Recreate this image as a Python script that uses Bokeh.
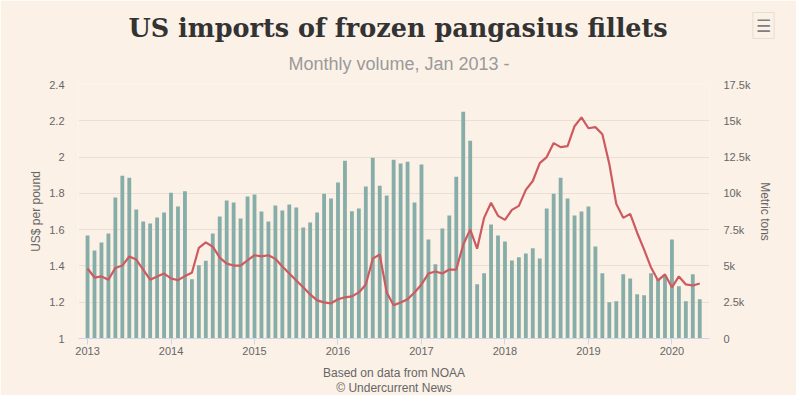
from bokeh.plotting import figure
from bokeh.models import (Range1d, LinearAxis, FixedTicker, Title, ColumnDataSource,
                          NumeralTickFormatter, Label)
from bokeh.embed import file_html
from bokeh.resources import INLINE

# ---- data ----
months = [f"{y}-{m:02d}" for y in range(2013, 2021) for m in range(1, 13)][:89]

volume_tons = [
    7100, 6070, 6620, 7240, 9710, 11220, 11080, 8890, 8060, 7920, 8340, 8680,      # 2013
    10050, 9090, 10140, 4080, 5040, 5360, 7240, 8400, 9500, 9370, 8270, 9780,      # 2014
    9920, 8750, 8060, 9160, 8820, 9230, 9020, 7650, 7990, 8680, 9980, 9640,        # 2015
    10740, 12250, 8770, 8950, 10470, 12460, 10530, 9850, 12320, 12050, 12180, 9370,  # 2016
    11980, 6820, 5110, 7580, 8470, 11150, 15620, 13630, 3730, 4490, 7850, 7100,    # 2017
    6690, 5380, 5590, 5860, 6210, 5520, 8950, 9980, 11080, 9640, 8470, 8750,       # 2018
    9090, 6340, 4490, 2500, 2560, 4420, 4140, 3050, 2980, 4490, 4080, 4350,        # 2019
    6820, 3600, 2560, 4420, 2700,                                                  # 2020
]

price_usd_lb = [
    1.386, 1.336, 1.342, 1.324, 1.389, 1.402, 1.452, 1.435, 1.380, 1.324, 1.342, 1.358,
    1.331, 1.322, 1.344, 1.362, 1.500, 1.530, 1.506, 1.446, 1.413, 1.402, 1.402, 1.430,
    1.459, 1.453, 1.459, 1.439, 1.397, 1.358, 1.320, 1.282, 1.243, 1.210, 1.199, 1.194,
    1.216, 1.227, 1.232, 1.254, 1.298, 1.440, 1.463, 1.254, 1.183, 1.199, 1.216, 1.254,
    1.298, 1.358, 1.369, 1.358, 1.380, 1.380, 1.517, 1.600, 1.495, 1.665, 1.748, 1.676,
    1.654, 1.709, 1.731, 1.819, 1.868, 1.967, 2.000, 2.077, 2.055, 2.060, 2.170, 2.219,
    2.159, 2.165, 2.126, 1.962, 1.742, 1.665, 1.687, 1.583, 1.490, 1.391, 1.320, 1.353,
    1.282, 1.342, 1.298, 1.292, 1.303,
]

year_labels = ["2013", "2014", "2015", "2016", "2017", "2018", "2019", "2020"]
price_ticks = [1, 1.2, 1.4, 1.6, 1.8, 2, 2.2, 2.4]
volume_ticks = [0, 2500, 5000, 7500, 10000, 12500, 15000, 17500]

# ---- styling ----
BG = "#FBF1E7"
BAR = "#87ADA8"
LINE = "#CD5A5E"
GRID = "#EADFD4"
TXT = "#666666"
SANS = "Liberation Sans"

idx = list(range(len(months)))
src = ColumnDataSource(dict(x=idx, month=months, tons=volume_tons, price=price_usd_lb))

p = figure(width=796, height=395, output_backend="svg", toolbar_location=None,
           x_range=Range1d(-1.3, 89.4), y_range=Range1d(1, 2.4),
           background_fill_color=BG, border_fill_color=BG, outline_line_color=None,
           min_border_left=78, min_border_right=87, min_border_top=84, min_border_bottom=57)
p.extra_y_ranges = {"tons": Range1d(0, 17500)}

# titles
p.title.text = "US imports of frozen pangasius fillets"
p.title.align = "left"
p.title.offset = 50
p.title.standoff = -3
p.title.vertical_align = "top"
p.title.text_font = "DejaVu Serif"
p.title.text_font_size = "25.5px"
p.title.text_font_style = "bold"
p.title.text_color = "#333333"
p.add_layout(Title(text="Monthly volume, Jan 2013 -", align="left", offset=210,
                   standoff=19, vertical_align="middle", text_font=SANS,
                   text_font_size="18px", text_font_style="normal",
                   text_color="#9A9A9A"), "above")
p.add_layout(Title(text="© Undercurrent News", align="center", text_font=SANS,
                   text_font_size="12px", text_font_style="normal", standoff=-8,
                   text_color=TXT), "below")

# bars and line
p.vbar(x="x", top="tons", bottom=0, width=0.55, source=src, y_range_name="tons",
       fill_color=BAR, line_color=None)
p.line(x="x", y="price", source=src, line_color=LINE, line_width=2.2)

# x axis
xa = p.xaxis[0]
xa.ticker = FixedTicker(ticks=[i * 12 for i in range(len(year_labels))])
xa.major_label_overrides = {i * 12: lab for i, lab in enumerate(year_labels)}
xa.axis_label = "Based on data from NOAA"
xa.axis_label_text_font = SANS
xa.axis_label_text_font_size = "12px"
xa.axis_label_text_font_style = "normal"
xa.axis_label_text_color = TXT
xa.axis_label_standoff = 8
xa.major_label_text_font = SANS
xa.major_label_text_font_size = "11px"
xa.major_label_text_color = TXT
xa.major_label_standoff = 2
xa.axis_line_color = "#CCD6EB"
xa.major_tick_line_color = "#CCD6EB"
xa.major_tick_out = 6
xa.major_tick_in = 0
xa.minor_tick_line_color = None

# left axis
ya = p.yaxis[0]
ya.ticker = FixedTicker(ticks=price_ticks)
ya.formatter = NumeralTickFormatter(format="0.[0]")
ya.axis_label = "US$ per pound"

ra = LinearAxis(y_range_name="tons", axis_label="Metric tons",
                ticker=FixedTicker(ticks=volume_ticks),
                formatter=NumeralTickFormatter(format="0.[0]a"))
p.add_layout(ra, "right")

for ax, lab_standoff in ((ya, 3), (ra, 5)):
    ax.axis_line_color = None
    ax.major_tick_line_color = None
    ax.minor_tick_line_color = None
    ax.major_label_text_font = SANS
    ax.major_label_text_font_size = "11px"
    ax.major_label_text_color = TXT
    ax.major_label_standoff = 8
    ax.axis_label_text_font = SANS
    ax.axis_label_text_font_size = "12px"
    ax.axis_label_text_font_style = "normal"
    ax.axis_label_text_color = TXT
    ax.axis_label_standoff = lab_standoff

p.xgrid.grid_line_color = None
p.ygrid.ticker = FixedTicker(ticks=price_ticks)
p.ygrid.grid_line_color = GRID

# menu icon placed in the right side panel (outside the frame)
p.add_layout(Label(x=-12, y=313, x_units="screen", y_units="screen", text="☰",
                   text_font="DejaVu Sans", text_font_size="17px", text_color="#808080",
                   text_align="center", text_baseline="middle",
                   border_line_color="#E6DDD3", padding=3), "right")

open("out.html", "w").write(file_html(p, INLINE))
